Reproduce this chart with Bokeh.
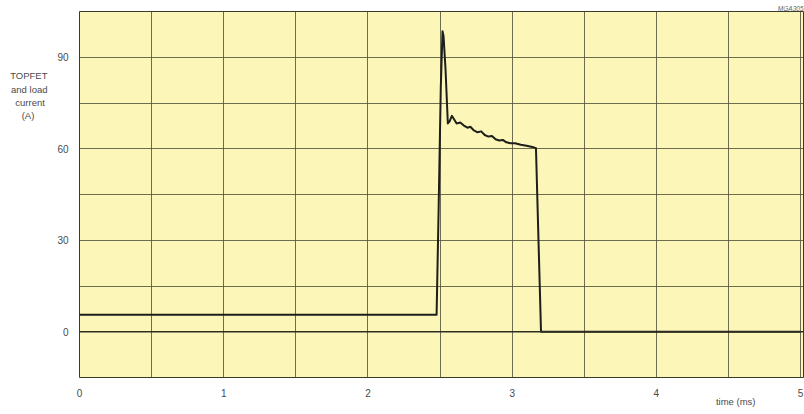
from bokeh.plotting import figure
from bokeh.models import FixedTicker, Span, Range1d, LinearAxis
from bokeh.embed import file_html
from bokeh.resources import INLINE

# Data (time in ms, current in A)
time_ms = [0.0, 2.476, 2.49, 2.505, 2.517, 2.524, 2.538, 2.554, 2.566, 2.582, 2.598,
           2.615, 2.64, 2.665, 2.69, 2.71, 2.735, 2.76, 2.785, 2.81, 2.835, 2.86,
           2.885, 2.91, 2.935, 2.96, 2.99, 3.02, 3.06, 3.1, 3.14, 3.165, 3.2, 5.0]
current_a = [5.6, 5.6, 40.0, 80.0, 98.5, 97.0, 86.0, 68.3, 69.0, 70.8, 69.6,
             68.3, 68.6, 67.6, 66.9, 67.2, 66.0, 65.4, 65.7, 64.5, 64.0, 64.2,
             63.1, 62.7, 62.9, 62.1, 61.8, 61.8, 61.3, 61.0, 60.6, 60.2, 0.0, 0.0]

x_ticks = [0, 1, 2, 3, 4, 5]
y_ticks = [0, 30, 60, 90]
x_grid = [0, 0.5, 1, 1.5, 2, 2.5, 3, 3.5, 4, 4.5, 5]
y_grid = [-15, 0, 15, 30, 45, 60, 75, 90, 105]
NB = "\u00a0"
# lines are right-aligned by the axis; non-breaking spaces centre them
y_label = "TOPFET\nand load\ncurrent" + NB + "\n(A)" + NB * 5
x_label = "time (ms)"
ref_code = "MGA305"
x_label_pos = 4.55
y_label_pos = 77.4

FONT = "Liberation Sans"
TXT = "#4a4a4a"

p = figure(width=804, height=414, output_backend="svg", toolbar_location=None,
           x_range=Range1d(0, 5.02), y_range=Range1d(-15, 105),
           min_border_left=79, min_border_right=1, min_border_top=11,
           min_border_bottom=37, title=ref_code)
p.title.align = "right"
p.title.text_font = FONT
p.title.text_font_size = "6.5px"
p.title.text_font_style = "italic"
p.title.text_color = "#666666"
p.title.standoff = 0

p.background_fill_color = "#fcf6b8"
p.border_fill_color = "white"
p.outline_line_color = "#3a3a2a"
p.outline_line_width = 1

p.xaxis.ticker = FixedTicker(ticks=x_ticks)
p.yaxis.ticker = FixedTicker(ticks=y_ticks)
p.xgrid.ticker = FixedTicker(ticks=x_grid)
p.ygrid.ticker = FixedTicker(ticks=y_grid)
for g in (p.xgrid, p.ygrid):
    g.grid_line_color = "#55553c"
    g.grid_line_width = 1
    g.grid_line_alpha = 0.85


def style_axis(ax, size="10px"):
    ax.axis_line_color = None
    ax.major_tick_line_color = None
    ax.minor_tick_line_color = None
    ax.major_label_text_font = FONT
    ax.major_label_text_font_size = size
    ax.major_label_text_color = TXT


for ax in (p.xaxis, p.yaxis):
    style_axis(ax)
p.xaxis.major_label_standoff = 5
p.yaxis.major_label_standoff = 5

# extra axes that carry the axis titles as single tick labels
x_title_axis = LinearAxis(ticker=FixedTicker(ticks=[x_label_pos]),
                          major_label_overrides={x_label_pos: x_label},
                          major_label_standoff=-10)
style_axis(x_title_axis, "9.5px")
p.add_layout(x_title_axis, "below")

y_title_axis = LinearAxis(ticker=FixedTicker(ticks=[y_label_pos]),
                          major_label_overrides={y_label_pos: y_label},
                          major_label_standoff=1)
style_axis(y_title_axis, "9.5px")
p.add_layout(y_title_axis, "left")

p.add_layout(Span(location=0, dimension="width", line_color="#2e2e22", line_width=1.6))

p.line(time_ms, current_a, line_color="#1e1e1a", line_width=2, line_join="round")

open("out.html", "w").write(file_html(p, INLINE))
